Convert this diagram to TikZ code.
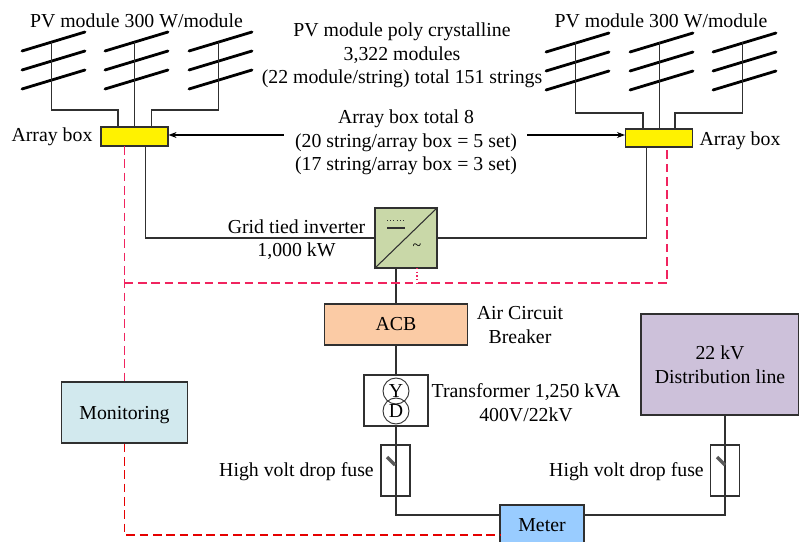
\documentclass[tikz,border=0pt]{standalone}
\usepackage{fontspec}
\setmainfont{Liberation Serif}
\usepackage{xcolor}
\usetikzlibrary{arrows.meta}
\definecolor{invgreen}{HTML}{C9D8A8}
\definecolor{acbpeach}{HTML}{FBCBA5}
\definecolor{monblue}{HTML}{D2E9EE}
\definecolor{linepurple}{HTML}{CDC1DA}
\definecolor{meterblue}{HTML}{99CCFF}
\definecolor{sigred}{HTML}{F0245F}
\definecolor{wiregray}{HTML}{303030}
\tikzset{
    wire/.style={draw=wiregray, line width=1pt},
    sig/.style={draw=sigred, line width=0.8pt, dash pattern=on 6.5pt off 3.5pt},
    panel/.style={black, line width=2.1pt, line cap=round},
    unit/.style={draw=wiregray, line width=1.1pt, inner sep=0pt, align=center},
    lbl/.style={inner sep=0pt, align=center, font=\fontsize{14.85}{17.6}\selectfont},
}

\begin{document}
\begin{tikzpicture}[x=0.75pt, y=-0.75pt]
    \useasboundingbox (0,0) rectangle (799,542);
    % units
    \node at (134.5,136.5) (abL) [unit, fill=yellow, minimum width=50pt, minimum height=14.5pt] {};
    \node at (659,138) (abR) [unit, fill=yellow, minimum width=50pt, minimum height=13.5pt] {};
    \node at (406,238) (inv) [unit, fill=invgreen, minimum width=46.5pt, minimum height=45pt] {};
    \node at (396,324.5) (acb) [unit, fill=acbpeach, minimum width=107pt, minimum height=30.5pt, lbl] {ACB};
    \node at (396,400.5) (trf) [unit, minimum width=48pt, minimum height=38pt] {};
    \node at (396,391) (wye) [circle, draw=wiregray, line width=0.7pt, minimum size=19.5pt, inner sep=0pt, lbl] {Y};
    \node at (396,411) (del) [circle, draw=wiregray, line width=0.7pt, minimum size=19.5pt, inner sep=0pt, lbl] {D};
    \node at (395.5,470.5) (fuL) [unit, minimum width=21.5pt, minimum height=38pt] {};
    \node at (725,470.5) (fuR) [unit, minimum width=21.5pt, minimum height=38pt] {};
    \node at (542,525) (met) [unit, fill=meterblue, minimum width=63pt, minimum height=30pt, lbl] {Meter};
    \node at (124.5,412.5) (mon) [unit, fill=monblue, minimum width=94.5pt, minimum height=45.5pt, lbl, text depth=0pt] {Monitoring};
    \node at (720,364.5) (dist) [unit, fill=linepurple, minimum width=118.5pt, minimum height=75.5pt, lbl] {22 kV\\Distribution line};
    % labels
    \node at (136.5,21) (pvL) [lbl] {PV module 300 W/module};
    \node at (661,21) (pvR) [lbl] {PV module 300 W/module};
    \node at (402,55.5) (pvT) [lbl] {PV module poly crystalline\\3,322 modules\\(22 module/string) total 151 strings};
    \node at (406,142.5) (abT) [lbl] {Array box total 8\\(20 string/array box = 5 set)\\(17 string/array box = 3 set)};
    \node at (52,136.5) (abLt) [lbl] {Array box};
    \node at (740,141) (abRt) [lbl] {Array box};
    \node at (296.5,239.5) (invT) [lbl] {Grid tied inverter\\1,000 kW};
    \node at (520,325) (acbT) [lbl] {Air Circuit\\Breaker};
    \node at (526,402.5) (trfT) [lbl] {Transformer 1,250 kVA\\400V/22kV};
    \node at (296.5,472) (fuLt) [lbl] {High volt drop fuse};
    \node at (626.5,472) (fuRt) [lbl] {High volt drop fuse};
    % free ends and taps
    \coordinate (arrL) at (283.5,135);
    \coordinate (arrR) at (527,135);
    \coordinate (sigA) at (124.5,146);
    \coordinate (sigB) at (124.5,283);
    \coordinate (sigC) at (667,283);
    \coordinate (sigD) at (667,147);
    \coordinate (sigE) at (417,268);
    \coordinate (sigG) at (500,535);
    % PV modules
    \foreach \n/\xa in {1/22,2/105,3/189} {
        \foreach \ya in {51,70,89}
            \draw[panel] (\xa,\ya) -- ++(63,-19);
        \coordinate (stL\n) at (\xa+29.5,42);
    }
    \foreach \n/\xa in {1/546,2/630,3/713} {
        \foreach \ya in {52,71,90}
            \draw[panel] (\xa,\ya) -- ++(63,-19);
        \coordinate (stR\n) at (\xa+29.5,42);
    }
    % wiring
    \draw[wire] (stL1) -- ++(0,68) -| ([xshift=-12.5pt]abL.north);
    \draw[wire] (stL2) -- (stL2 |- abL.north);
    \draw[wire] (stL3) -- ++(0,68) -| ([xshift=12.5pt]abL.north);
    \draw[wire] (stR1) -- ++(0,71) -| ([xshift=-12pt]abR.north);
    \draw[wire] (stR2) -- (stR2 |- abR.north);
    \draw[wire] (stR3) -- ++(0,71) -| ([xshift=12pt]abR.north);
    \draw[wire] ([xshift=8pt]abL.south) |- (inv.west);
    \draw[wire] ([xshift=-9.5pt]abR.south) |- (inv.east);
    \draw[wire] ([xshift=-7.5pt]inv.south) -- ([xshift=-7.5pt]inv.south |- acb.north);
    \draw[wire] (acb.south) -- (trf.north);
    \draw[wire] (trf.south) |- ([yshift=7.5pt]met.west);
    \draw[wire] (dist.south -| fuR.center) |- ([yshift=7.5pt]met.east);
    \draw[wire, line width=0.8pt] (inv.south west) -- (inv.north east);
    \draw[-{Stealth[length=6pt]}, line width=0.8pt] (arrL) -- (abL.east |- arrL);
    \draw[-{Stealth[length=6pt]}, line width=0.8pt] (arrR) -- (abR.west |- arrR);
    % monitoring signal
    \draw[sig] (sigA) -- (sigA |- mon.north);
    \draw[sig] (sigB) -- (sigC) -- (sigD);
    \draw[sig, dotted] (sigE) -- (sigE |- sigB);
    \draw[sig, draw=red!90!black] (mon.south) |- (sigG);
    % inverter and fuse marks
    \draw[wire, line width=0.4pt, dotted] (387,220) -- (405,220);
    \draw[wire] (387,228) -- (405,228);
    \node at (417,247) (tld) [inner sep=0pt, font=\large] {\textasciitilde};
    \draw[gray!70!black, line width=2.6pt] (387,457) -- (395,465);
    \draw[gray!70!black, line width=2.6pt] (717,457) -- (725,465);
\end{tikzpicture}
\end{document}
